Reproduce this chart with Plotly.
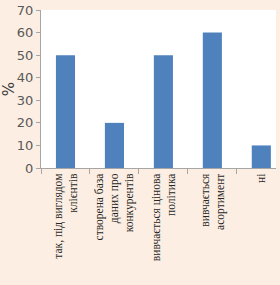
import plotly.graph_objects as go

categories = [
    "так, під виглядом<br>клієнтів",
    "створена база<br>даних про<br>конкурентів",
    "вивчається цінова<br>політика",
    "вивчається<br>асортимент",
    "ні",
]
values = [50, 20, 50, 60, 10]
y_ticks = [0, 10, 20, 30, 40, 50, 60, 70]

fig = go.Figure(
    go.Bar(
        x=categories,
        y=values,
        marker=dict(color="#4F81BD", line=dict(width=0)),
        width=0.39,
    )
)

fig.update_layout(
    width=280,
    height=285,
    margin=dict(l=41, r=4, t=10, b=117),
    paper_bgcolor="#FCEEE2",
    plot_bgcolor="#FFFFFF",
    showlegend=False,
)

fig.update_xaxes(
    type="category",
    range=[-0.5, 4.3],
    tickson="boundaries",
    ticks="outside",
    ticklen=5,
    tickcolor="#A6A6A6",
    showline=True,
    linecolor="#A6A6A6",
    showgrid=False,
    tickangle=-90,
    tickfont=dict(family="Liberation Serif", size=11.5, color="#262626"),
)

fig.update_yaxes(
    range=[0, 70],
    tickvals=y_ticks,
    ticks="outside",
    ticklen=4,
    tickcolor="#A6A6A6",
    showline=True,
    linecolor="#A6A6A6",
    showgrid=False,
    zeroline=False,
    tickfont=dict(family="DejaVu Sans", size=13, color="#595959"),
    title=dict(text="%", font=dict(family="DejaVu Sans", size=15, color="#404040"), standoff=2),
)

fig.write_html("out.html")
